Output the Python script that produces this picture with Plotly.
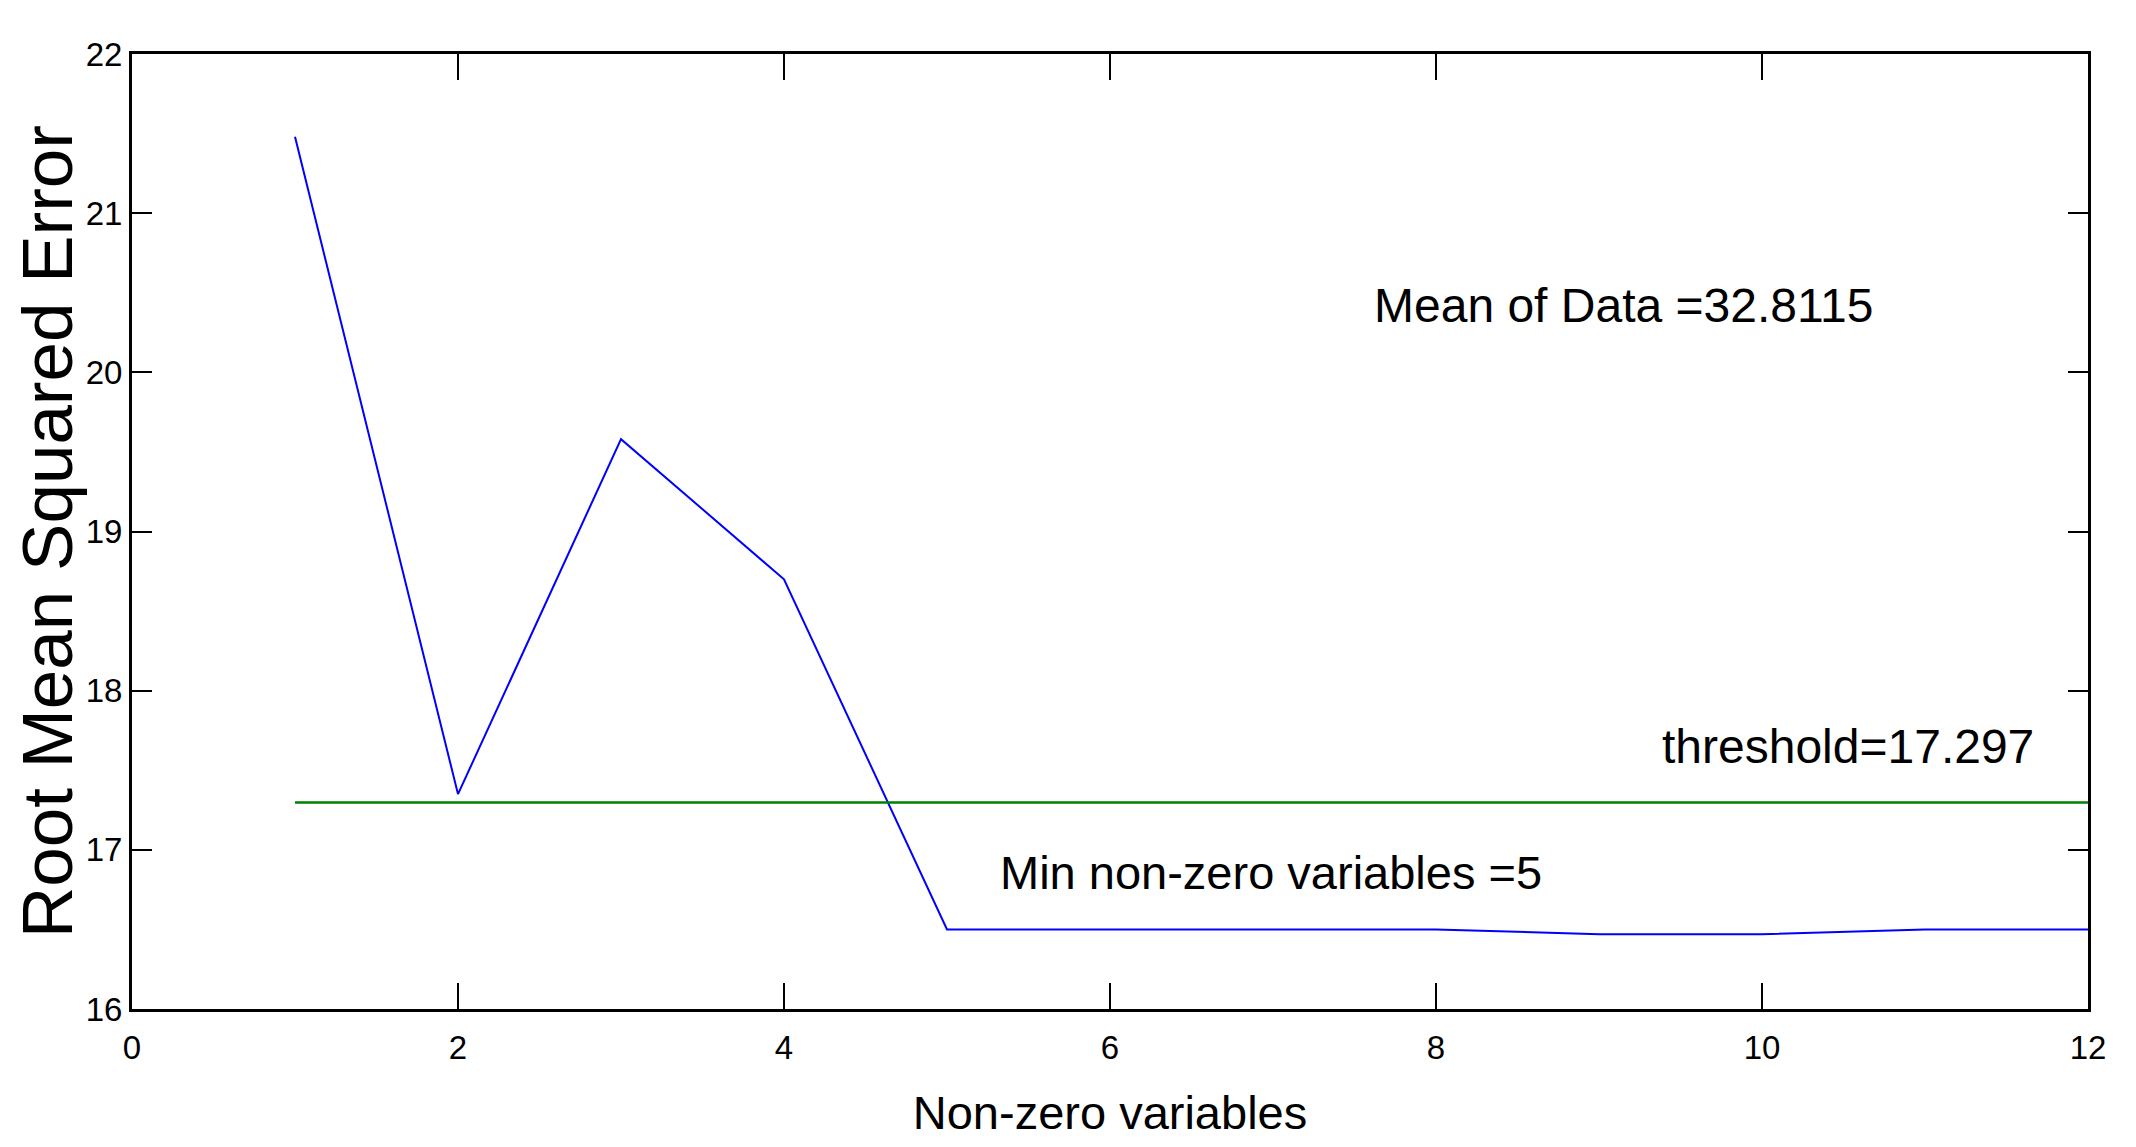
import plotly.graph_objects as go

# data
nonzero_vars = [1, 2, 3, 4, 5, 6, 7, 8, 9, 10, 11, 12]
rmse = [21.48, 17.35, 19.58, 18.70, 16.50, 16.50, 16.50, 16.50, 16.47, 16.47, 16.50, 16.50]
threshold = 17.297
threshold_x = [1, 12]
threshold_y = [threshold, threshold]
x_ticks = [0, 2, 4, 6, 8, 10, 12]
y_ticks = [16, 17, 18, 19, 20, 21, 22]

REG = "Liberation Sans, Arial, sans-serif"

fig = go.Figure()
fig.add_trace(go.Scatter(x=nonzero_vars, y=rmse, mode="lines",
                         line=dict(color="#0000FF", width=2), showlegend=False))
fig.add_trace(go.Scatter(x=threshold_x, y=threshold_y, mode="lines",
                         line=dict(color="#008000", width=2.5), showlegend=False))

ann_font = dict(family=REG, size=48, color="black")
fig.add_annotation(x=7.61, y=20.42, text="Mean of Data =32.8115", showarrow=False,
                   xanchor="left", yanchor="middle", font=ann_font)
fig.add_annotation(x=11.68, y=17.65, text="threshold=17.297", showarrow=False,
                   xanchor="right", yanchor="middle", font=ann_font)
fig.add_annotation(x=5.31, y=16.86, text="Min non-zero variables =5", showarrow=False,
                   xanchor="left", yanchor="middle", font=dict(family=REG, size=47, color="black"))

axis_common = dict(showgrid=False, zeroline=False, showline=True, linecolor="black",
                   linewidth=3, mirror="ticks", ticks="inside", tickcolor="black",
                   tickwidth=2)

fig.update_xaxes(range=[0, 12], tickvals=x_ticks, ticktext=[str(v) for v in x_ticks],
                 ticklen=26, ticklabelstandoff=7,
                 tickfont=dict(family=REG, size=33, color="black"),
                 title=dict(text="Non-zero variables", font=dict(family=REG, size=47, color="black"),
                            standoff=36),
                 **axis_common)
fig.update_yaxes(range=[16, 22], tickvals=y_ticks, ticktext=[str(v) for v in y_ticks],
                 ticklen=20, tickfont=dict(family=REG, size=33, color="black"),
                 title=dict(text="Root Mean Squared Error", font=dict(family=REG, size=71, color="black"),
                            standoff=2),
                 **axis_common)

fig.update_layout(width=2120, height=1131, plot_bgcolor="white", paper_bgcolor="white",
                  margin=dict(l=124, r=40, t=46, b=130, autoexpand=False))

fig.write_html("out.html")
